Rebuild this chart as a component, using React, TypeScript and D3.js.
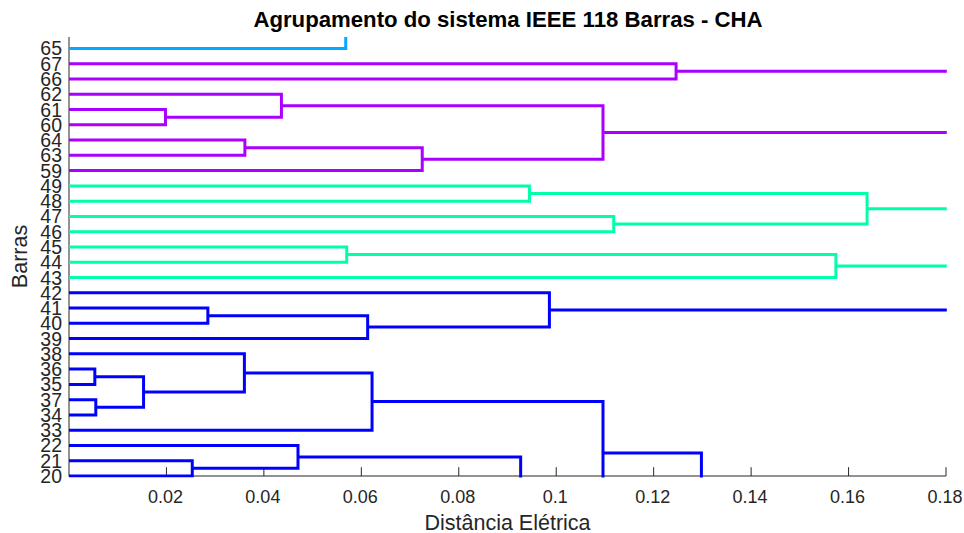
import React from "react";
import * as d3 from "d3";

// Leaf labels, bottom → top (leaf order positions 1..29)
const leafLabels = ["20","21","22","33","34","37","35","36","38","39","40","41","42","43","44","45","46","47","48","49","59","63","64","60","61","62","66","67","65"];

// Nodes of the full 118-bus tree that lie outside the visible window
const outsideNodes = ["T", "X", "Z"];
const outsidePos = [31, -4, -14];

// Merges (linkage): left child, right child, height, colour group
const mergeIds =    ["A",  "B",  "C",  "D",  "E",  "F",  "EF", "G1", "G2", "G3", "G4", "G5", "G6", "H1", "H2", "H3", "I1", "I2", "I3", "I4", "I5", "J1", "J2", "J3", "I6", "K",  "H4", "W"];
const mergeLeft =   ["61", "62", "64", "C",  "B",  "67", "F",  "49", "47", "G1", "45", "G4", "G3", "41", "H1", "42", "36", "37", "I1", "38", "I4", "21", "22", "J2", "I5", "I6", "H3", "65"];
const mergeRight =  ["60", "A",  "63", "59", "D",  "66", "E",  "48", "46", "G2", "44", "43", "G5", "40", "39", "H2", "35", "34", "I2", "I3", "33", "20", "J1", "X",  "J3", "Z",  "K",  "T"];
const mergeHeight = [0.0198, 0.0436, 0.0361, 0.0725, 0.1096, 0.1246, 0.21, 0.0945, 0.1118, 0.1638, 0.0570, 0.1574, 0.20, 0.0285, 0.0613, 0.0986, 0.0053, 0.0055, 0.0153, 0.0360, 0.0622, 0.0253, 0.0470, 0.0927, 0.1096, 0.1298, 0.19, 0.0568];
const mergeGroup =  ["p","p","p","p","p","p","p","g","g","g","g","g","g","b","b","b","b","b","b","b","b","b","b","b","b","b","b","l"];

const xTicks = [0.02, 0.04, 0.06, 0.08, 0.1, 0.12, 0.14, 0.16, 0.18];
const xTickLabels = ["0.02", "0.04", "0.06", "0.08", "0.1", "0.12", "0.14", "0.16", "0.18"];

const groupColor: Record<string, string> = {
  p: "#AA00FF",
  g: "#00FFAA",
  b: "#0000FF",
  l: "#00AAFF",
};

const W = 964, H = 533;
const left = 69, right = 946, top = 37, bottom = 476;
const axisColor = "#262626";
const font = "'Liberation Sans', Arial, Helvetica, sans-serif";

export default function App() {
  const x = d3.scaleLinear().domain([0, 0.18]).range([left, right]);
  const y = d3.scaleLinear().domain([1, 29.75]).range([bottom, top]);

  const pos: Record<string, number> = {};
  const hgt: Record<string, number> = {};
  leafLabels.forEach((l, i) => { pos[l] = i + 1; hgt[l] = 0; });
  outsideNodes.forEach((n, i) => { pos[n] = outsidePos[i]; hgt[n] = 0; });
  mergeIds.forEach((id, i) => {
    const a = mergeLeft[i], b = mergeRight[i];
    pos[id] = (pos[a] + pos[b]) / 2;
    hgt[id] = mergeHeight[i];
  });

  const links = mergeIds.map((id, i) => {
    const a = mergeLeft[i], b = mergeRight[i], h = mergeHeight[i];
    const p = d3.path();
    p.moveTo(x(hgt[a]), y(pos[a]));
    p.lineTo(x(h), y(pos[a]));
    p.lineTo(x(h), y(pos[b]));
    p.lineTo(x(hgt[b]), y(pos[b]));
    return { id, d: p.toString(), color: groupColor[mergeGroup[i]] };
  });

  const tickLen = 8.8;

  return (
    <svg width={W} height={H} style={{ position: "absolute", left: 0, top: 0, background: "#fff" }} fontFamily={font}>
      <defs>
        <clipPath id="plotclip">
          <rect x={left - 4} y={top} width={right + 0.8 - (left - 4)} height={bottom + 1.5 - top} />
        </clipPath>
      </defs>
      <rect x={0} y={0} width={W} height={H} fill="#fff" />
      {xTicks.map((t, i) => (
        <g key={"xt" + i}>
          <line x1={x(t)} x2={x(t)} y1={bottom} y2={bottom - tickLen} stroke={axisColor} strokeWidth={1} />
          <text x={x(t) - 1} y={503} textAnchor="middle" fontSize={18} fill={axisColor}>{xTickLabels[i]}</text>
        </g>
      ))}
      <line x1={left} x2={left} y1={top} y2={bottom + 0.5} stroke={axisColor} strokeWidth={1} />
      <line x1={left} x2={right} y1={bottom} y2={bottom} stroke={axisColor} strokeWidth={1} />
      <g clipPath="url(#plotclip)">
        {links.map((l) => (
          <path key={l.id} d={l.d} fill="none" stroke={l.color} strokeWidth={3} strokeLinejoin="miter" strokeLinecap="butt" />
        ))}
      </g>
      {leafLabels.map((l, i) => (
        <text key={"lb" + l} x={62} y={y(i + 1)} dy="0.36em" textAnchor="end" fontSize={19.5} fill={axisColor}>{l}</text>
      ))}
      <text x={508} y={27} textAnchor="middle" fontSize={22.2} fontWeight="bold" fill="#000">Agrupamento do sistema IEEE 118 Barras - CHA</text>
      <text x={(left + right) / 2} y={529.5} textAnchor="middle" fontSize={21.5} fill={axisColor}>Distância Elétrica</text>
      <text transform={`translate(27, ${(top + bottom) / 2}) rotate(-90)`} textAnchor="middle" fontSize={21.5} fill={axisColor}>Barras</text>
    </svg>
  );
}
